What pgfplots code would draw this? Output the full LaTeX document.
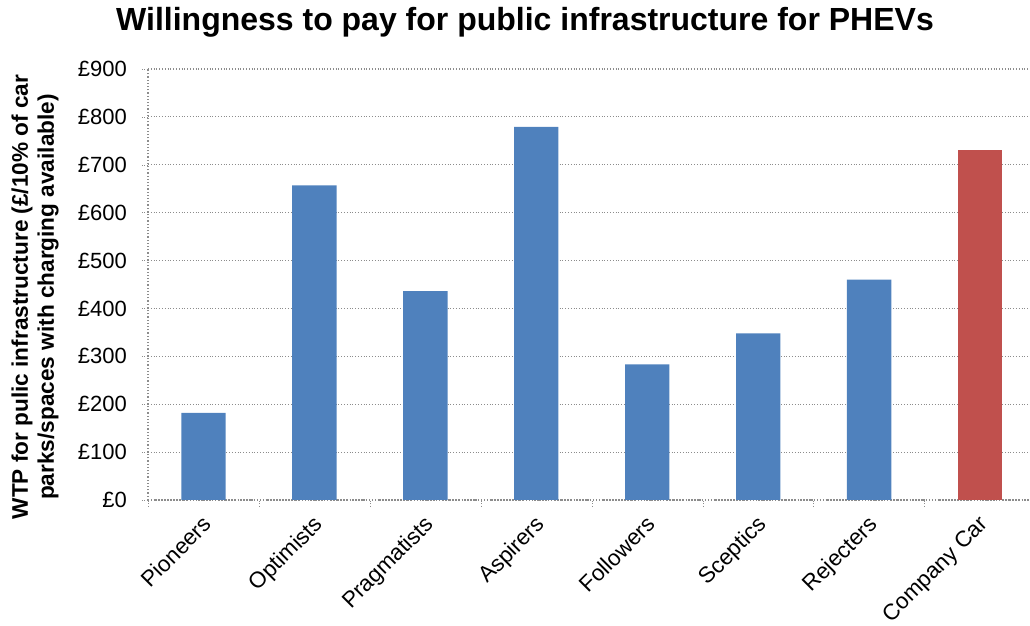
\documentclass[border=0pt]{standalone}
\usepackage{fontspec}
\setmainfont{Liberation Sans}
\usepackage{pgfplots}
\pgfplotsset{compat=1.18}
\definecolor{barblue}{HTML}{4F81BD}
\definecolor{barred}{HTML}{C0504D}
\definecolor{gridgray}{HTML}{8C8C8C}
\begin{document}
\begin{tikzpicture}
\useasboundingbox (0,0) rectangle (515pt,313pt);
\begin{axis}[
  at={(74pt,63pt)}, anchor=south west,
  width=441pt, height=215.5pt, scale only axis,
  xmin=-0.5, xmax=7.45,
  ymin=0, ymax=900,
  ytick={0,100,...,900},
  yticklabels={£0,£100,£200,£300,£400,£500,£600,£700,£800,£900},
  xtick={0,...,7},
  xticklabels={Pioneers,Optimists,Pragmatists,Aspirers,Followers,Sceptics,Rejecters,Company Car},
  minor xtick={-0.5,0.5,...,7.5},
  x tick label style={rotate=45, anchor=north east, inner sep=1pt, yshift=-1pt, xshift=-2.5pt, font=\fontsize{11.2}{13}\selectfont},
  y tick label style={font=\fontsize{11}{13}\selectfont, xshift=-4pt},
  major x tick style={draw=none},
  minor x tick style={gridgray, densely dotted},
  major y tick style={gridgray, densely dotted},
  tick align=outside,
  major tick length=3pt, minor tick length=3pt,
  ymajorgrids,
  grid style={gridgray, densely dotted, line width=0.6pt},
  axis line style={gridgray, densely dotted, line width=0.6pt},
  axis x line*=bottom, axis y line*=left,
  ybar, bar width=0.40, bar shift=0pt,
  clip=false,
]
\addplot[fill=barblue, draw=none, bar shift=0pt] coordinates {(0,182) (1,657) (2,436) (3,779) (4,283) (5,348) (6,460)};
\addplot[fill=barred, draw=none, bar shift=0pt] coordinates {(7,731)};
\end{axis}
\node[font=\fontsize{16}{19}\selectfont\bfseries] at (262.5pt,302pt) {Willingness to pay for public infrastructure for PHEVs};
\node[rotate=90, align=center, font=\fontsize{11.3}{13}\selectfont\bfseries] at (17.5pt,164.5pt) {WTP for pulic infrastructure (£/10\% of car\\parks/spaces with charging available)};
\end{tikzpicture}
\end{document}
